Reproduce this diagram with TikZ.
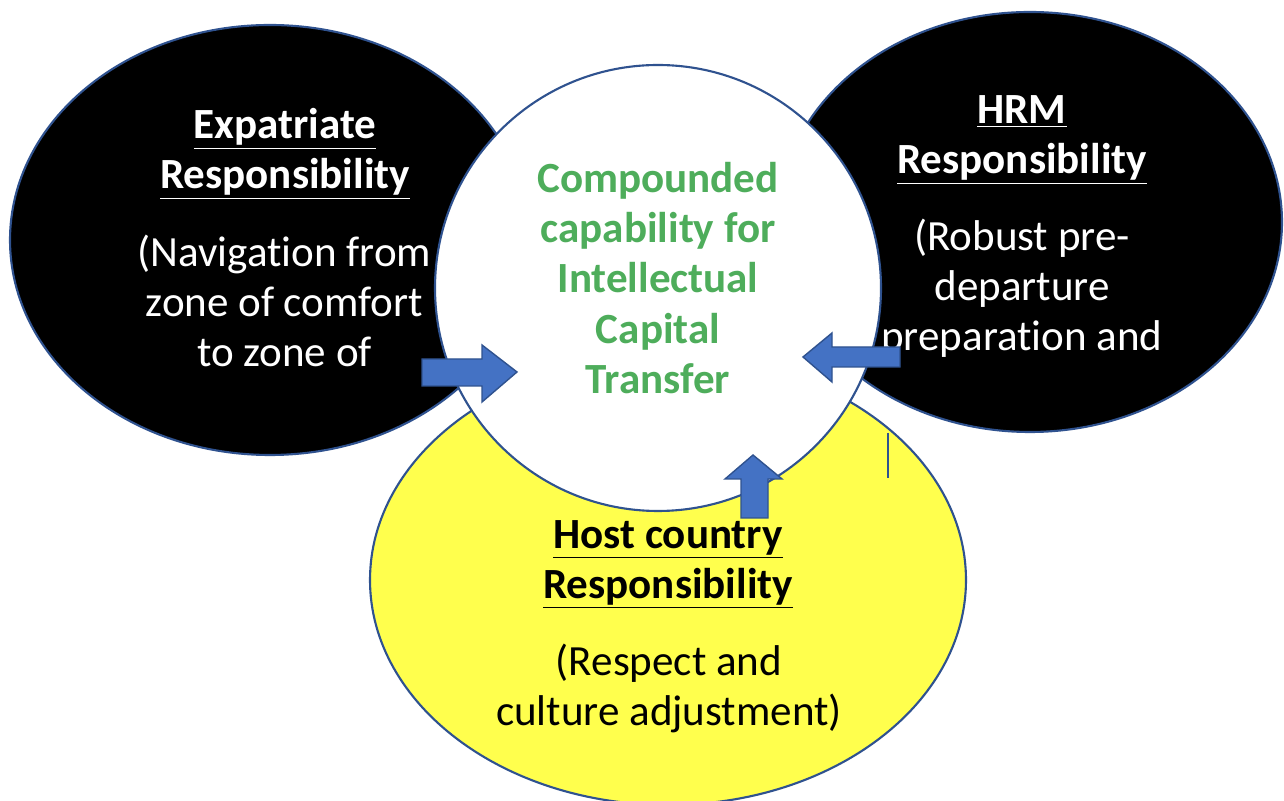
\documentclass[tikz,border=0pt]{standalone}
\usepackage{fontspec}
\setmainfont[Ligatures=NoCommon]{Carlito}
\usepackage{xcolor}
\definecolor{rimblue}{HTML}{2F528F}
\definecolor{arrowblue}{HTML}{4472C4}
\definecolor{capgreen}{HTML}{4EAD5B}
\definecolor{hostyellow}{HTML}{FFFF4D}

\begin{document}
\begin{tikzpicture}[
    bigtext/.style={align=center,font=\fontsize{24.5}{28.5}\selectfont},
    head/.style={bigtext,font=\fontsize{24.5}{28.5}\selectfont\bfseries},
    blockarrow/.style={fill=arrowblue,draw=rimblue,line width=0.8pt,line join=miter}
  ]
      \useasboundingbox (0,0) rectangle (25.68,16.02);
      % the three responsibility areas and the centre
      \draw [rimblue,line width=1.2pt,fill=black] (5.4,11.22) ellipse (5.2 and 4.3);
      \draw [rimblue,line width=1.2pt,fill=black] (20.6,11.58) ellipse (5.04 and 4.2);
      \draw [rimblue,line width=1.2pt,fill=hostyellow] (13.36,4.42) ellipse (5.96 and 4.5);
      \draw [rimblue,line width=1.2pt,fill=white] (13.16,10.26) circle [radius=4.46];
      % texts
      \node [head,white] (expathead) at (5.7,12.94) {\underline{Expatriate}\\\underline{Responsibility}};
      \node [bigtext,white] (expatbody) at (5.69,10.0) {(Navigation from\\zone of comfort\\to zone of};
      \node [head,white] (hrmhead) at (20.44,13.22) {\underline{HRM}\\\underline{Responsibility}};
      \node [bigtext,white] (hrmbody) at (20.44,10.26) {(Robust pre-\\departure\\preparation and};
      \node [head,capgreen] (capital) at (13.16,10.46) {Compounded\\capability for\\Intellectual\\Capital\\Transfer};
      \node [head,black] (hosthead) at (13.36,4.73) {\underline{Host country}\\\underline{Responsibility}};
      \node [bigtext,black] (hostbody) at (13.38,2.26) {(Respect and\\culture adjustment)};
      % block arrows into the centre
      \draw [blockarrow] (8.44,8.84) -- (9.64,8.84) -- (9.64,9.12) -- (10.34,8.58) -- (9.64,7.98) -- (9.64,8.30) -- (8.44,8.30) -- cycle;
      \draw [blockarrow] (18.0,9.08) -- (16.64,9.08) -- (16.64,9.36) -- (16.06,8.88) -- (16.64,8.38) -- (16.64,8.68) -- (18.0,8.68) -- cycle;
      \draw [blockarrow] (14.82,5.66) -- (14.82,6.44) -- (14.5,6.44) -- (15.06,6.92) -- (15.64,6.44) -- (15.36,6.44) -- (15.36,5.66) -- cycle;
      \draw [rimblue,line width=1pt] (17.76,7.36) -- (17.76,6.46);
\end{tikzpicture}
\end{document}
